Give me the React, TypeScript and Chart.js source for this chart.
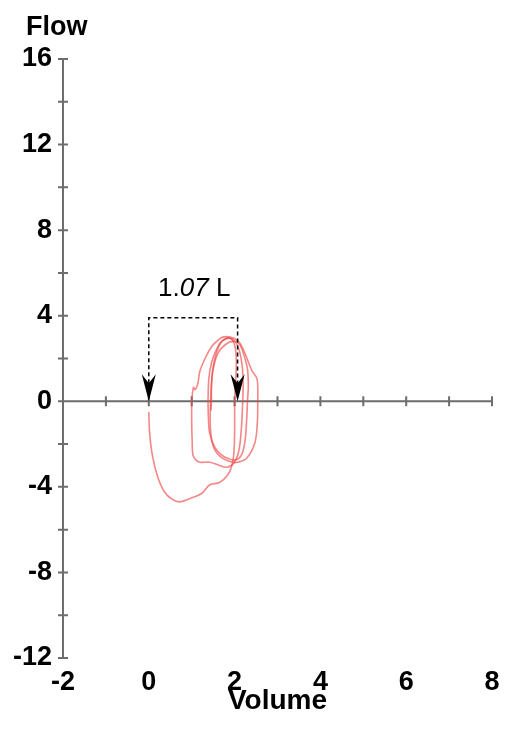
import { useEffect, useRef } from "react";
import { Chart, registerables } from "chart.js";

Chart.register(...registerables);

// Axis ranges and labels
const X_MIN = -2;
const X_MAX = 8;
const Y_MIN = -12;
const Y_MAX = 16;
const X_TITLE = "Volume";
const Y_TITLE = "Flow";

// Measurement annotation
const MEASURE_START = 0;
const MEASURE_END = 2.07;
const MEASURE_TOP = 3.9;
const MEASURE_LABEL = ["1.", "07", " L"];

// Trace segments (volume, flow)
const tailVolume = [0, 0.02, 0.09, 0.21, 0.37, 0.56, 0.72, 0.96, 1.24, 1.42, 1.65, 1.84, 1.93, 1.98, 2.0, 2.0];
const tailFlow = [-0.5, -1.5, -2.6, -3.55, -4.25, -4.6, -4.7, -4.55, -4.3, -3.9, -3.8, -3.45, -3.05, -2.5, -1.5, 0];

const arch4Volume = [2.0, 2.02, 2.04, 2.03, 1.98, 1.9, 1.8, 1.68, 1.58, 1.5, 1.46, 1.44];
const arch4Flow = [0, 0.8, 1.6, 2.3, 2.75, 2.95, 2.95, 2.75, 2.3, 1.6, 0.8, 0];

const dip4Volume = [1.44, 1.43, 1.45, 1.5, 1.6, 1.75, 1.95, 2.07, 2.28, 2.47, 2.53, 2.54];
const dip4Flow = [0, -0.9, -1.6, -2.1, -2.45, -2.7, -2.85, -2.85, -2.66, -1.96, -1.0, 0];

const arch1Volume = [2.54, 2.54, 2.52, 2.4, 2.19, 2.07, 1.9, 1.72, 1.61, 1.47, 1.31, 1.19, 1.14, 1.08, 1.04, 1.0];
const arch1Flow = [0, 0.6, 1.07, 1.45, 2.48, 2.85, 3.0, 3.0, 2.85, 2.57, 2.0, 1.4, 0.8, 0.55, 0.65, 0];

const dip1Volume = [1.0, 1.0, 1.01, 1.03, 1.1, 1.19, 1.42, 1.65, 1.82, 1.98, 2.1, 2.16, 2.19];
const dip1Flow = [0, -0.9, -1.8, -2.52, -2.75, -2.85, -2.85, -3.0, -3.08, -2.9, -2.3, -1.2, 0];

const arch2Volume = [2.19, 2.2, 2.18, 2.12, 2.03, 1.93, 1.84, 1.7, 1.59, 1.47, 1.4, 1.38];
const arch2Flow = [0, 0.8, 1.6, 2.3, 2.75, 2.92, 2.94, 2.8, 2.48, 1.87, 1.07, 0];

const dip2Volume = [1.38, 1.39, 1.42, 1.54, 1.7, 1.84, 2.0, 2.15, 2.24, 2.28, 2.3];
const dip2Flow = [0, -0.8, -1.5, -2.15, -2.52, -2.66, -2.75, -2.55, -1.9, -0.9, 0];

const arch3Volume = [2.3, 2.32, 2.3, 2.22, 2.12, 2.0, 1.82, 1.61, 1.49, 1.46, 1.46, 1.45, 1.46];
const arch3Flow = [0, 0.7, 1.5, 2.15, 2.65, 2.8, 2.7, 2.24, 1.4, 0.6, 0, -0.4, 0.3];

const segments = [
  [tailVolume, tailFlow],
  [arch4Volume, arch4Flow],
  [dip4Volume, dip4Flow],
  [arch1Volume, arch1Flow],
  [dip1Volume, dip1Flow],
  [arch2Volume, arch2Flow],
  [dip2Volume, dip2Flow],
  [arch3Volume, arch3Flow],
];

const AXIS_COLOR = "#6d6d6d";
const TRACE_COLOR = "rgba(238, 70, 70, 0.65)";
const FONT_FAMILY = '"Liberation Sans", Arial, sans-serif';

const axesPlugin = {
  id: "crossAxes",
  beforeDatasetsDraw(chart: any) {
    const { ctx } = chart;
    const x = chart.scales.x;
    const y = chart.scales.y;
    const x0 = x.getPixelForValue(X_MIN);
    const y0 = y.getPixelForValue(0);
    ctx.save();
    ctx.strokeStyle = AXIS_COLOR;
    ctx.lineWidth = 2;
    ctx.beginPath();
    ctx.moveTo(x0, y.getPixelForValue(Y_MAX));
    ctx.lineTo(x0, y.getPixelForValue(Y_MIN));
    for (let v = Y_MIN; v <= Y_MAX; v += 2) {
      const py = y.getPixelForValue(v);
      ctx.moveTo(x0 - 5, py);
      ctx.lineTo(v === 0 ? x0 : x0 + 5, py);
    }
    ctx.moveTo(x0, y0);
    ctx.lineTo(x.getPixelForValue(X_MAX), y0);
    for (let v = X_MIN + 1; v <= X_MAX; v += 1) {
      const px = x.getPixelForValue(v);
      ctx.moveTo(px, y0 - 5);
      ctx.lineTo(px, y0 + 5);
    }
    ctx.stroke();
    ctx.fillStyle = "#000";
    ctx.font = `bold 27px ${FONT_FAMILY}`;
    ctx.textAlign = "left";
    ctx.textBaseline = "alphabetic";
    ctx.fillText(Y_TITLE, 26, 35);
    ctx.restore();
  },
  afterDatasetsDraw(chart: any) {
    const { ctx } = chart;
    const x = chart.scales.x;
    const y = chart.scales.y;
    const xa = x.getPixelForValue(MEASURE_START);
    const xb = x.getPixelForValue(MEASURE_END);
    const yt = y.getPixelForValue(MEASURE_TOP);
    const y0 = y.getPixelForValue(0);
    ctx.save();
    ctx.strokeStyle = "#000";
    ctx.lineWidth = 1.5;
    ctx.setLineDash([4, 3]);
    ctx.beginPath();
    ctx.moveTo(xa, y0 - 18);
    ctx.lineTo(xa, yt);
    ctx.lineTo(xb, yt);
    ctx.lineTo(xb, y0 - 18);
    ctx.stroke();
    ctx.setLineDash([]);
    ctx.fillStyle = "#000";
    for (const cx of [xa, xb]) {
      ctx.beginPath();
      ctx.moveTo(cx, y0);
      ctx.lineTo(cx - 7, y0 - 27);
      ctx.lineTo(cx, y0 - 18);
      ctx.lineTo(cx + 7, y0 - 27);
      ctx.closePath();
      ctx.fill();
    }
    const fonts = [`26px ${FONT_FAMILY}`, `italic 26px ${FONT_FAMILY}`, `26px ${FONT_FAMILY}`];
    let total = 0;
    const widths: number[] = [];
    MEASURE_LABEL.forEach((t, i) => {
      ctx.font = fonts[i];
      const w = ctx.measureText(t).width;
      widths.push(w);
      total += w;
    });
    let cx = (xa + xb) / 2 - total / 2 + 1;
    ctx.textAlign = "left";
    ctx.textBaseline = "alphabetic";
    MEASURE_LABEL.forEach((t, i) => {
      ctx.font = fonts[i];
      ctx.fillText(t, cx, yt - 22);
      cx += widths[i];
    });
    ctx.restore();
  },
};

export default function App() {
  const canvasRef = useRef<HTMLCanvasElement | null>(null);

  useEffect(() => {
    const canvas = canvasRef.current;
    if (!canvas) return;
    const chart = new Chart(canvas, {
      type: "scatter",
      data: {
        datasets: segments.map(([vols, flows]) => ({
          data: vols.map((v, i) => ({ x: v, y: flows[i] })),
          showLine: true,
          pointRadius: 0,
          borderColor: TRACE_COLOR,
          borderWidth: 1.6,
          tension: 0.35,
          fill: false,
          clip: false as any,
        })),
      },
      options: {
        animation: false,
        responsive: false,
        maintainAspectRatio: false,
        layout: { padding: { left: 0, right: 26, top: 59, bottom: 0 } },
        plugins: { legend: { display: false }, tooltip: { enabled: false } },
        scales: {
          x: {
            type: "linear",
            min: X_MIN,
            max: X_MAX,
            position: "bottom",
            grid: { display: false, drawTicks: false },
            border: { display: false },
            ticks: {
              stepSize: 2,
              color: "#000",
              padding: 8,
              maxRotation: 0,
              autoSkip: false,
              font: { family: FONT_FAMILY, size: 27, weight: "bold" },
            },
            title: {
              display: true,
              text: X_TITLE,
              color: "#000",
              padding: { top: 0, bottom: 15 },
              font: { family: FONT_FAMILY, size: 28, weight: "bold" },
            },
            afterFit(scale: any) {
              scale.height = 75;
            },
          },
          y: {
            type: "linear",
            min: Y_MIN,
            max: Y_MAX,
            position: "left",
            grid: { display: false, drawTicks: false },
            border: { display: false },
            ticks: {
              stepSize: 4,
              color: "#000",
              padding: 11,
              autoSkip: false,
              font: { family: FONT_FAMILY, size: 27, weight: "bold" },
            },
            afterFit(scale: any) {
              scale.width = 63;
            },
          },
        },
      },
      plugins: [axesPlugin],
    });
    return () => chart.destroy();
  }, []);

  return (
    <div style={{ position: "fixed", left: 0, top: 0, width: 518, height: 733, background: "#fff" }}>
      <canvas ref={canvasRef} width={518} height={733} style={{ width: 518, height: 733 }} />
    </div>
  );
}
